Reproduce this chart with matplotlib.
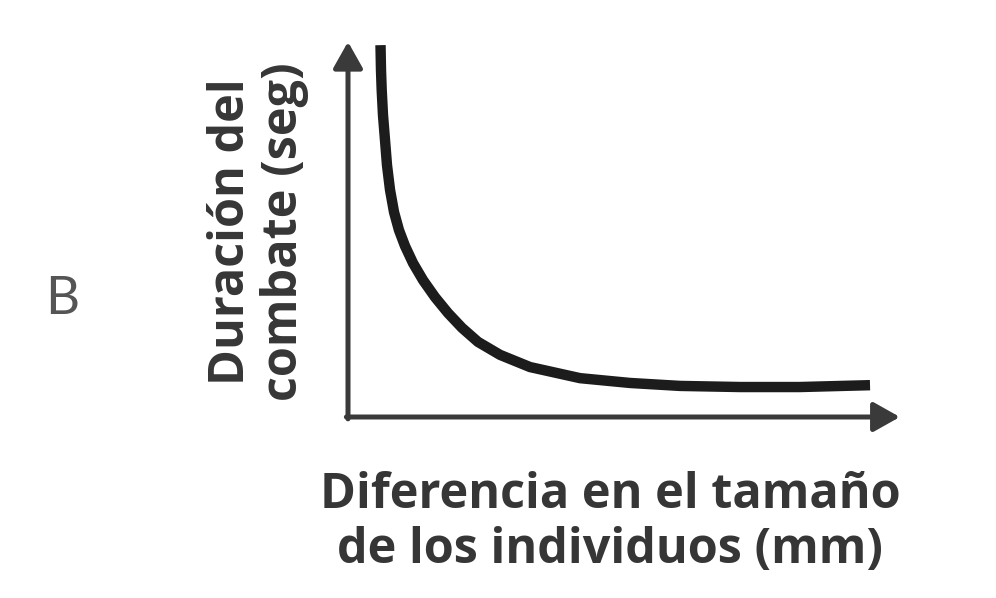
import matplotlib
matplotlib.use("Agg")
import matplotlib.pyplot as plt

# Data (arbitrary units)
size_diff = [0.602, 0.611, 0.624, 0.648, 0.685, 0.722, 0.778, 0.852, 0.944,
             1.056, 1.204, 1.389, 1.611, 1.852, 2.111, 2.407, 2.815, 3.370,
             4.296, 5.222, 6.148, 7.259, 8.370, 9.667]
duration = [10.05, 9.38, 8.84, 8.16, 7.49, 6.81, 6.14, 5.54, 5.05,
            4.62, 4.16, 3.70, 3.24, 2.81, 2.41, 2.03, 1.68, 1.35,
            1.05, 0.92, 0.84, 0.81, 0.81, 0.86]

xlabel = "Diferencia en el tamaño\nde los individuos (mm)"
ylabel = "Duración del\ncombate (seg)"
panel = "B"

W, H = 996, 598
fig = plt.figure(figsize=(W / 100, H / 100), dpi=100)
fig.patch.set_facecolor("white")

# origin at pixel (348, 417); x: 54 px / unit, y: 37 px / unit
ox, oy = 348, 417
ax = fig.add_axes([ox / W, (H - oy) / H, 540 / W, 370 / H])
ax.set_xlim(0, 10)
ax.set_ylim(0, 10)
ax.axis("off")

axis_color = "#3a3a3a"
arrow = dict(arrowstyle="-|>,head_length=0.8,head_width=0.45", lw=3.6,
             color=axis_color, shrinkA=0, shrinkB=0, mutation_scale=20)
ax.annotate("", xy=(0, 10.14), xytext=(0, -0.05), arrowprops=arrow,
            annotation_clip=False)
ax.annotate("", xy=(10.22, 0), xytext=(-0.03, 0), arrowprops=arrow,
            annotation_clip=False)

ax.plot(size_diff, duration, color="#1c1c1c", lw=7.5,
        solid_capstyle="butt", solid_joinstyle="round", clip_on=False)

text_color = "#363636"
fig.text(610 / W, 1 - 523 / H, xlabel, ha="center", va="center",
         fontsize=35, fontweight="bold", family="Open Sans", color=text_color,
         linespacing=1.16)
fig.text(258 / W, 1 - 232 / H, ylabel, ha="center", va="center",
         rotation=90, fontsize=35, fontweight="bold", family="Open Sans",
         color=text_color, linespacing=1.12)
fig.text(62 / W, 1 - 300 / H, panel, ha="center", va="center",
         fontsize=38, fontweight="normal", family="Lato", color="#555555")

fig.savefig("out.png", dpi=100, facecolor="white")
